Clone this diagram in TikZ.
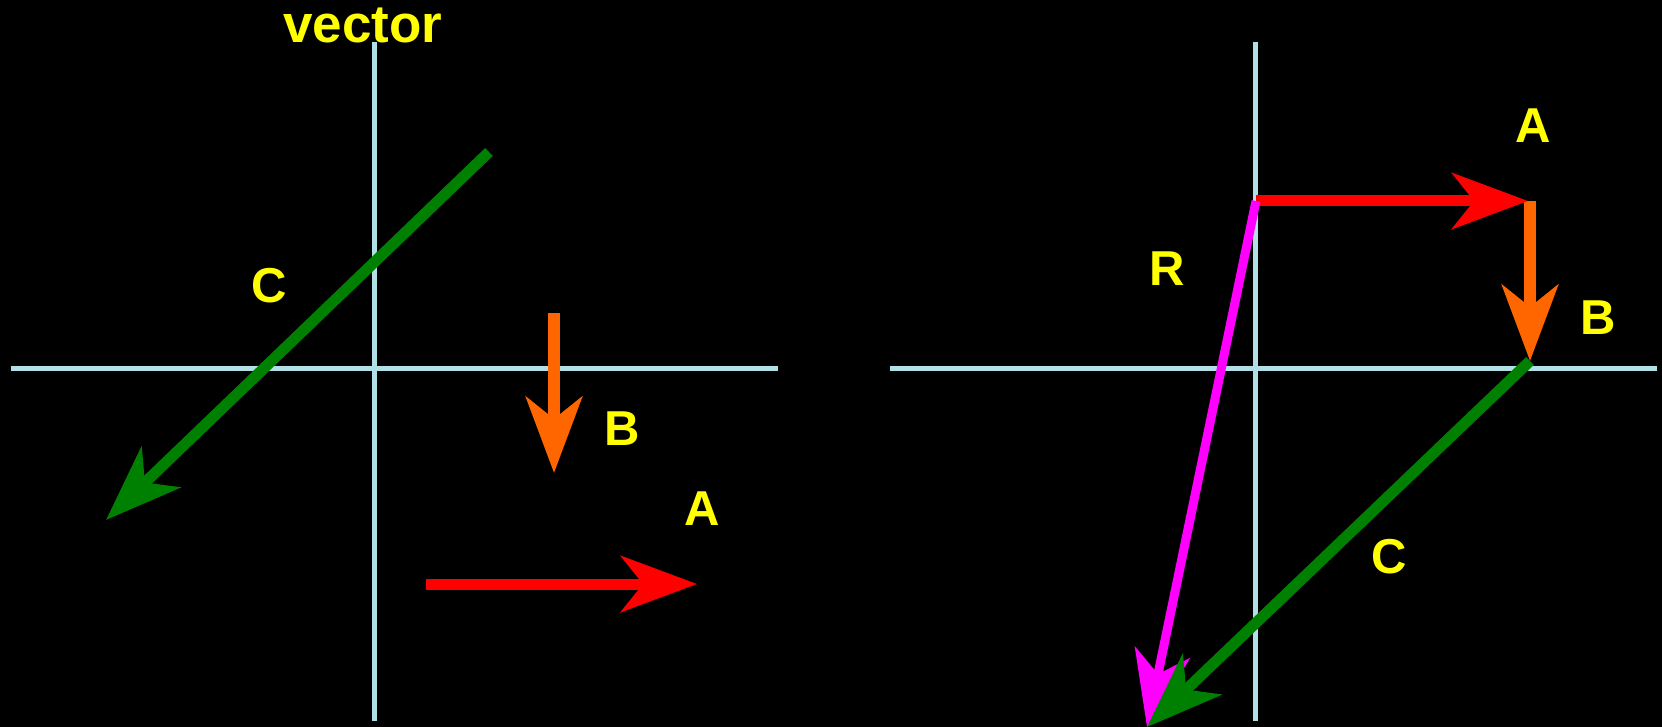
\documentclass[tikz,border=0pt]{standalone}
\usepackage{fontspec}
\setmainfont{Liberation Sans}
\usetikzlibrary{arrows.meta}
\definecolor{axisc}{RGB}{176,224,230}
\definecolor{vgreen}{RGB}{0,128,0}
\definecolor{vorange}{RGB}{255,102,0}
\definecolor{vred}{RGB}{255,0,0}
\definecolor{vmag}{RGB}{255,0,255}
\definecolor{vyel}{RGB}{255,255,0}
\tikzset{
  axisline/.style={draw=axisc,line width=5pt},
  vec/.style={line width=11pt,-{Stealth[length=76pt,width=56pt,inset=22pt]}},
  lbl/.style={text=vyel,font=\fontsize{49}{55}\selectfont\bfseries,inner sep=0pt},
}
\begin{document}
\begin{tikzpicture}[x=1pt,y=-1pt]
\fill[black] (0,0) rectangle (1662,727);
\useasboundingbox (0,0) rectangle (1662,727);
% left panel axes
\coordinate (lxa) at (11,368); \coordinate (lxb) at (778,368);
\coordinate (lya) at (374,42); \coordinate (lyb) at (374,721);
\draw[axisline] (lxa) -- (lxb);
\draw[axisline] (lya) -- (lyb);
% right panel axes
\coordinate (rxa) at (890,368); \coordinate (rxb) at (1657,368);
\coordinate (rya) at (1255,42); \coordinate (ryb) at (1255,721);
\draw[axisline] (rxa) -- (rxb);
\draw[axisline] (rya) -- (ryb);
% title
\node[lbl,anchor=base,font=\fontsize{53}{60}\selectfont\bfseries] (title) at (363,43) {vector};
% left vectors
\coordinate (c1s) at (489,152); \coordinate (c1e) at (106,520);
\draw[vec,draw=vgreen,fill=vgreen] (c1s) -- (c1e);
\coordinate (b1s) at (554,313); \coordinate (b1e) at (554,473);
\draw[vec,draw=vorange,fill=vorange,line width=12pt] (b1s) -- (b1e);
\coordinate (a1s) at (426,584); \coordinate (a1e) at (697,584);
\draw[vec,draw=vred,fill=vred] (a1s) -- (a1e);
\node[lbl] (lC) at (269,286) {C};
\node[lbl] (lB) at (622,429) {B};
\node[lbl] (lA) at (702,509) {A};
% right vectors
\coordinate (o) at (1256,201);
\coordinate (pa) at (1528,201);
\coordinate (pb) at (1530,361);
\coordinate (pc) at (1147,727);
\draw[vec,draw=vorange,fill=vorange,line width=12pt] (1530,201) -- (pb);
\draw[vec,draw=vred,fill=vred] (o) -- (pa);
\draw[vec,draw=vmag,fill=vmag,line width=9pt] (o) -- (pc);
\draw[vec,draw=vgreen,fill=vgreen] (pb) -- (pc);
\node[lbl] (rA) at (1533,126) {A};
\node[lbl] (rB) at (1598,318) {B};
\node[lbl] (rC) at (1389,557) {C};
\node[lbl] (rR) at (1167,269) {R};
\end{tikzpicture}
\end{document}
